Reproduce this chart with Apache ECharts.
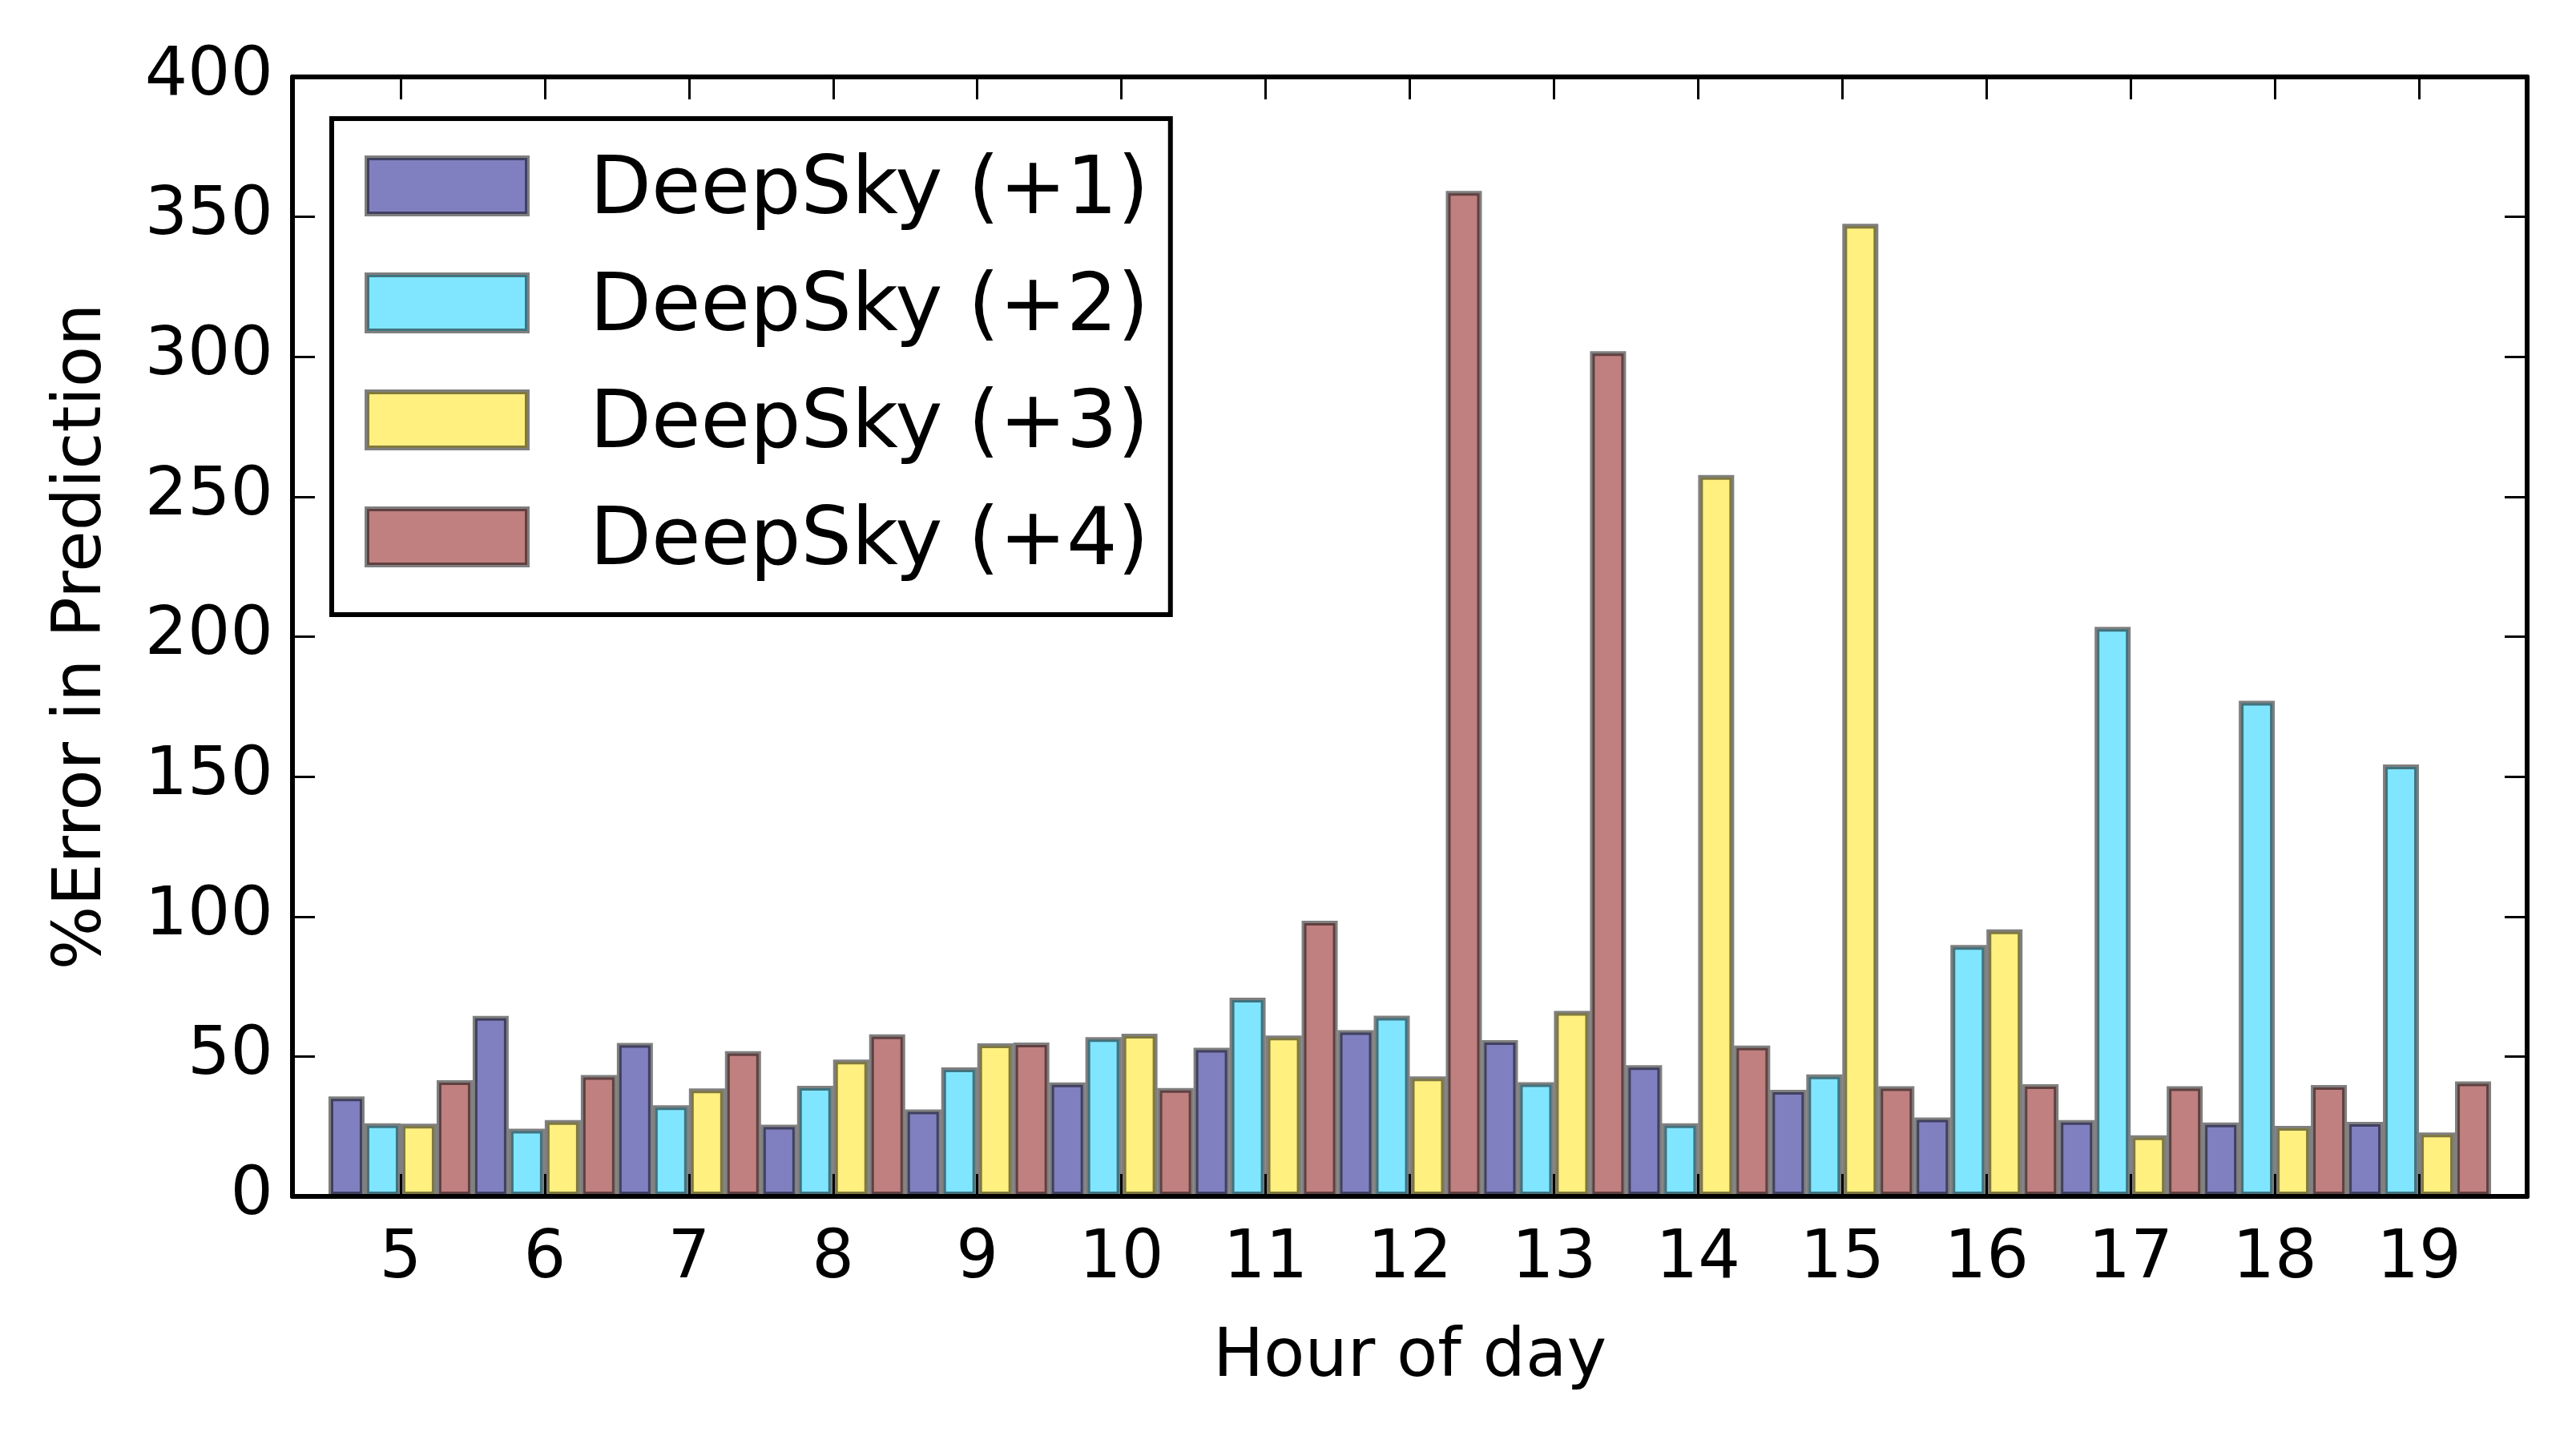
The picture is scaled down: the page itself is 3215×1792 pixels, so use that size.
<!DOCTYPE html>
<html>
<head>
<meta charset="UTF-8">
<title>DeepSky error by hour</title>
<script src="https://cdn.jsdelivr.net/npm/echarts@6/dist/echarts.min.js"></script>
<style>
    body { margin: 0; background: #fff; }
    #chart { width: 3215px; height: 1792px; }
</style>
</head>
<body>
<div id="chart"></div>
<script>
    // values
    const hours = [5, 6, 7, 8, 9, 10, 11, 12, 13, 14, 15, 16, 17, 18, 19];
    const plus1 = [35.7, 64.5, 54.8, 25.6, 31.1, 40.7, 53.1, 59.4, 55.8, 46.9, 38.1, 28.2, 27.3, 26.4, 26.6];
    const plus2 = [26.1, 24.2, 32.6, 39.5, 46.1, 56.9, 71.0, 64.6, 40.8, 26.1, 43.6, 89.8, 203.5, 177.1, 154.3];
    const plus3 = [26.0, 27.3, 38.6, 48.9, 54.7, 58.1, 57.5, 42.9, 66.3, 257.8, 347.5, 95.4, 21.8, 25.2, 22.8];
    const plus4 = [41.5, 43.4, 51.9, 57.9, 55.0, 38.7, 98.5, 359.3, 302.0, 53.9, 39.4, 40.1, 39.4, 39.8, 41.1];
    const names = ['DeepSky (+1)', 'DeepSky (+2)', 'DeepSky (+3)', 'DeepSky (+4)'];
    const colors = ['#8080c0', '#80e6ff', '#fff080', '#c08080'];

    const font = 'DejaVu Sans';
    const chart = echarts.init(document.getElementById('chart'));

    function xAx(pos, labels) {
        return {
            type: 'value', position: pos, min: 4.25, max: 19.75, z: 5,
            name: labels ? 'Hour of day' : '', nameLocation: 'middle', nameGap: 160,
            nameTextStyle: {fontFamily: font, fontSize: 84, color: '#000'},
            axisLine: {show: true, onZero: false, lineStyle: {color: '#000', width: 6}},
            axisTick: {show: true, inside: true, length: 28, lineStyle: {color: '#000', width: 3}, customValues: hours},
            axisLabel: {show: labels, customValues: hours, fontFamily: font, fontSize: 83, color: '#000', margin: 38},
            splitLine: {show: false}
        };
    }
    function yAx(pos, labels) {
        return {
            type: 'value', position: pos, min: 0, max: 400, interval: 50, z: 5,
            name: labels ? '%Error in Prediction' : '', nameLocation: 'middle', nameGap: 220,
            nameTextStyle: {fontFamily: font, fontSize: 84, color: '#000'},
            axisLine: {show: true, lineStyle: {color: '#000', width: 6}},
            axisTick: {show: true, inside: true, length: 28, lineStyle: {color: '#000', width: 3}},
            axisLabel: {show: labels, fontFamily: font, fontSize: 84, color: '#000', margin: 24},
            splitLine: {show: false}
        };
    }

    const values = [plus1, plus2, plus3, plus4];
    const series = values.map((v, k) => ({
        name: names[k],
        type: 'bar',
        xAxisIndex: 0, yAxisIndex: 0,
        barGap: '0%', barCategoryGap: '0%',
        data: hours.map((h, i) => [h, v[i]]),
        itemStyle: {color: colors[k], borderColor: 'rgba(0,0,0,0.5)', borderWidth: 6}
    }));

    chart.setOption({
        backgroundColor: '#fff',
        animation: false,
        grid: {left: 365, right: 61, top: 96, bottom: 299},
        xAxis: [xAx('bottom', true), xAx('top', false)],
        yAxis: [yAx('left', true), yAx('right', false)],
        legend: {
            data: names, orient: 'vertical', left: 414, top: 148,
            backgroundColor: '#fff', borderColor: '#000', borderWidth: 6, borderRadius: 0,
            padding: [26, 27, 39, 41], icon: 'rect',
            itemWidth: 200, itemHeight: 70, itemGap: 30,
            itemStyle: {borderColor: 'rgba(0,0,0,0.5)', borderWidth: 6},
            formatter: '{t|{name}}',
            textStyle: {
                fontFamily: font, fontSize: 100, color: '#000', padding: [0, 0, 0, 73],
                rich: {t: {fontFamily: font, fontSize: 100, color: '#000', lineHeight: 100, padding: [16, 0, 0, 0]}}
            }
        },
        series: series
    });
</script>
</body>
</html>
